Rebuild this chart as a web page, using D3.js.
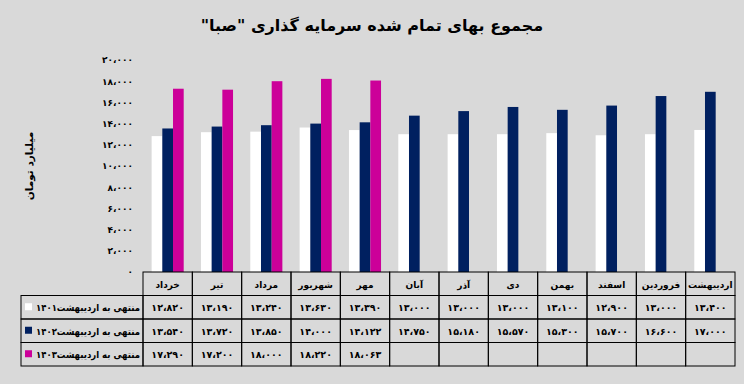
<!DOCTYPE html>
<html>
<head>
<meta charset="utf-8">
<script src="https://cdn.jsdelivr.net/npm/d3@7"></script>
<style>
  body { margin: 0; background: #d9d9d9; }
  text { font-family: "DejaVu Sans", sans-serif; font-weight: bold; fill: #000; }
</style>
</head>
<body>
<div id="chart"></div>
<script>
// data (table under the bars)
var months = ["خرداد", "تیر", "مرداد", "شهریور", "مهر", "آبان", "آذر", "دی", "بهمن", "اسفند", "فروردین", "اردیبهشت"];
var seriesLabels = ["منتهی به اردیبهشت۱۴۰۱", "منتهی به اردیبهشت۱۴۰۲", "منتهی به اردیبهشت۱۴۰۳"];
var s1401 = [12820, 13190, 13240, 13630, 13390, 13000, 13000, 13000, 13100, 12900, 13000, 13400];
var s1402 = [13540, 13720, 13850, 14000, 14122, 14750, 15180, 15570, 15300, 15700, 16600, 17000];
var s1403 = [17290, 17200, 18000, 18220, 18063, null, null, null, null, null, null, null];
var title = "مجموع بهای تمام شده سرمایه گذاری \"صبا\"";
var yTitle = "میلیارد تومان";

var series = [s1401, s1402, s1403];

var width = 744, height = 384;
var margin = {top: 60, right: 9, bottom: 112, left: 143};
var rowH = 23.5;

var faDigits = "۰۱۲۳۴۵۶۷۸۹";
function fa(n) {
    return d3.format(",")(n).replace(/,/g, "،").replace(/\d/g, function(d) { return faDigits[d]; });
}

var color = d3.scaleOrdinal()
    .domain([0, 1, 2])
    .range(["#ffffff", "#002060", "#cc0099"]);

var svg = d3.select("#chart").append("svg")
    .attr("width", width)
    .attr("height", height);

var x0 = d3.scaleBand()
    .domain(months)
    .range([margin.left, width - margin.right])
    .paddingInner(0.35)
    .paddingOuter(0.175);

var x1 = d3.scaleBand()
    .domain([0, 1, 2])
    .range([0, x0.bandwidth()]);

var y = d3.scaleLinear()
    .domain([0, 20000])
    .range([height - margin.bottom, margin.top]);

// title
svg.append("text")
    .attr("x", width / 2)
    .attr("y", 31)
    .attr("text-anchor", "middle")
    .attr("direction", "rtl")
    .style("font-size", "16px")
    .text(title);

// y axis (labels only)
var yAxis = d3.axisLeft(y)
    .ticks(10)
    .tickSize(0)
    .tickPadding(0)
    .tickFormat(fa);

var gy = svg.append("g")
    .attr("transform", "translate(" + 133 + ",0)")
    .call(yAxis);
gy.select(".domain").remove();
gy.selectAll("text")
    .style("font-family", "\"DejaVu Sans\", sans-serif")
    .style("font-size", "9px")
    .style("font-weight", "bold");

svg.append("text")
    .attr("transform", "translate(33," + 166 + ") rotate(-90)")
    .attr("text-anchor", "middle")
    .attr("direction", "rtl")
    .style("font-size", "10.5px")
    .text(yTitle);

// bars
var groups = svg.selectAll(".month")
    .data(months)
    .enter().append("g")
    .attr("class", "month")
    .attr("transform", function(d) { return "translate(" + x0(d) + ",0)"; });

groups.selectAll("rect")
    .data(function(d, i) {
        return series.map(function(s, k) { return {k: k, v: s[i]}; })
            .filter(function(e) { return e.v != null; });
    })
    .enter().append("rect")
    .attr("x", function(d) { return x1(d.k); })
    .attr("width", x1.bandwidth())
    .attr("y", function(d) { return y(d.v); })
    .attr("height", function(d) { return y(0) - y(d.v); })
    .style("fill", function(d) { return color(d.k); });

// data table
var step = x0.step();
var cellX = function(m) { return x0(m) - step * 0.175; };
var top0 = y(0);
var legendLeft = 21;
var table = svg.append("g").attr("class", "table");

// header cells
table.selectAll(".head")
    .data(months)
    .enter().append("rect")
    .attr("x", function(d) { return cellX(d); })
    .attr("y", top0)
    .attr("width", step)
    .attr("height", rowH)
    .style("fill", "none")
    .style("stroke", "#000")
    .style("stroke-width", 1);

table.selectAll(".headText")
    .data(months)
    .enter().append("text")
    .attr("x", function(d) { return cellX(d) + step / 2; })
    .attr("y", top0 + rowH / 2 + 4)
    .attr("text-anchor", "middle")
    .attr("direction", "rtl")
    .style("font-size", "9px")
    .text(function(d) { return d; });

series.forEach(function(s, k) {
    var ry = top0 + rowH * (k + 1);
    var row = table.append("g");

    row.append("rect")
        .attr("x", legendLeft)
        .attr("y", ry)
        .attr("width", margin.left - legendLeft)
        .attr("height", rowH)
        .style("fill", "none")
        .style("stroke", "#000");

    row.append("rect")
        .attr("x", legendLeft + 4)
        .attr("y", ry + rowH / 2 - 4)
        .attr("width", 7)
        .attr("height", 7)
        .style("fill", color(k));

    row.append("text")
        .attr("x", margin.left - 3)
        .attr("y", ry + rowH / 2 + 4)
        .attr("text-anchor", "start")
        .attr("direction", "rtl")
        .attr("textLength", 104)
        .attr("lengthAdjust", "spacingAndGlyphs")
        .style("font-size", "9.5px")
        .text(seriesLabels[k]);

    row.selectAll(".cell")
        .data(months)
        .enter().append("rect")
        .attr("x", function(d) { return cellX(d); })
        .attr("y", ry)
        .attr("width", step)
        .attr("height", rowH)
        .style("fill", "none")
        .style("stroke", "#000");

    row.selectAll(".val")
        .data(months)
        .enter().append("text")
        .attr("x", function(d) { return cellX(d) + step / 2; })
        .attr("y", ry + rowH / 2 + 4)
        .attr("text-anchor", "middle")
        .style("font-size", "9.5px")
        .text(function(d, i) { return s[i] == null ? "" : fa(s[i]); });
});
</script>
</body>
</html>
